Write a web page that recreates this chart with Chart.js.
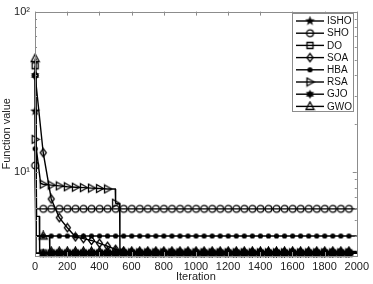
<!DOCTYPE html>
<html>
<head>
<meta charset="utf-8">
<script src="https://cdn.jsdelivr.net/npm/chart.js@4.4.1/dist/chart.umd.min.js"></script>
<style>
html, body { margin: 0; padding: 0; background: #fff; }
</style>
</head>
<body>
<canvas id="chart" width="373" height="284"></canvas>
<script>
// sampled iterations (markers every 50 iterations, last point has no marker)
var iters = [1, 51, 101, 151, 201, 251, 301, 351, 401, 451, 501, 551, 601, 651, 701, 751, 801, 851, 901, 951,
             1001, 1051, 1101, 1151, 1201, 1251, 1301, 1351, 1401, 1451, 1501, 1551, 1601, 1651, 1701, 1751, 1801, 1851, 1901, 1951, 2000];

var ISHO = [24, 3.12, 3.12, 3.12, 3.12, 3.12, 3.12, 3.12, 3.12, 3.12, 3.12, 3.12, 3.12, 3.12, 3.12, 3.12, 3.12, 3.12, 3.12, 3.12,
            3.12, 3.12, 3.12, 3.12, 3.12, 3.12, 3.12, 3.12, 3.12, 3.12, 3.12, 3.12, 3.12, 3.12, 3.12, 3.12, 3.12, 3.12, 3.12, 3.12, 3.12];
var SHO  = [11, 5.9, 5.9, 5.9, 5.9, 5.9, 5.9, 5.9, 5.9, 5.9, 5.9, 5.9, 5.9, 5.9, 5.9, 5.9, 5.9, 5.9, 5.9, 5.9,
            5.9, 5.9, 5.9, 5.9, 5.9, 5.9, 5.9, 5.9, 5.9, 5.9, 5.9, 5.9, 5.9, 5.9, 5.9, 5.9, 5.9, 5.9, 5.9, 5.9, 5.9];
var DO   = [46, 3.13, 3.13, 3.13, 3.13, 3.13, 3.13, 3.13, 3.13, 3.13, 3.13, 3.13, 3.13, 3.13, 3.13, 3.13, 3.13, 3.13, 3.13, 3.13,
            3.13, 3.13, 3.13, 3.13, 3.13, 3.13, 3.13, 3.13, 3.13, 3.13, 3.13, 3.13, 3.13, 3.13, 3.13, 3.13, 3.13, 3.13, 3.13, 3.13, 3.13];
var SOA  = [40, 13.2, 6.8, 5.2, 4.5, 3.95, 3.85, 3.75, 3.6, 3.45, 3.3, 3.2, 3.17, 3.17, 3.17, 3.17, 3.17, 3.17, 3.17, 3.17,
            3.17, 3.17, 3.17, 3.17, 3.17, 3.17, 3.17, 3.17, 3.17, 3.17, 3.17, 3.17, 3.17, 3.17, 3.17, 3.17, 3.17, 3.17, 3.17, 3.17, 3.17];
var HBA  = [14, 4.0, 4.0, 4.0, 4.0, 4.0, 4.0, 4.0, 4.0, 4.0, 4.0, 4.0, 4.0, 4.0, 4.0, 4.0, 4.0, 4.0, 4.0, 4.0,
            4.0, 4.0, 4.0, 4.0, 4.0, 4.0, 4.0, 4.0, 4.0, 4.0, 4.0, 4.0, 4.0, 4.0, 4.0, 4.0, 4.0, 4.0, 4.0, 4.0, 4.0];
var RSA  = [16, 8.4, 8.3, 8.2, 8.1, 8.05, 8.0, 7.95, 7.9, 7.85, 6.4, 3.14, 3.14, 3.14, 3.14, 3.14, 3.14, 3.14, 3.14, 3.14,
            3.14, 3.14, 3.14, 3.14, 3.14, 3.14, 3.14, 3.14, 3.14, 3.14, 3.14, 3.14, 3.14, 3.14, 3.14, 3.14, 3.14, 3.14, 3.14, 3.14, 3.14];
var GJO  = [40, 3.12, 3.12, 3.12, 3.12, 3.12, 3.12, 3.12, 3.12, 3.12, 3.12, 3.12, 3.12, 3.12, 3.12, 3.12, 3.12, 3.12, 3.12, 3.12,
            3.12, 3.12, 3.12, 3.12, 3.12, 3.12, 3.12, 3.12, 3.12, 3.12, 3.12, 3.12, 3.12, 3.12, 3.12, 3.12, 3.12, 3.12, 3.12, 3.12, 3.12];
var GWO  = [51, 4.0, 3.2, 3.2, 3.2, 3.2, 3.2, 3.2, 3.2, 3.2, 3.2, 3.2, 3.2, 3.2, 3.2, 3.2, 3.2, 3.2, 3.2, 3.2,
            3.2, 3.2, 3.2, 3.2, 3.2, 3.2, 3.2, 3.2, 3.2, 3.2, 3.2, 3.2, 3.2, 3.2, 3.2, 3.2, 3.2, 3.2, 3.2, 3.2, 3.2];

// extra points where the curves step between sampled iterations (no marker)
var ISHO_steps = [[5, 3.12]];
var SHO_steps  = [[5, 5.9]];
var DO_steps   = [[10, 5.3], [27, 5.3], [29, 3.13]];
var SOA_steps  = [];
var HBA_steps  = [[5, 4.0]];
var RSA_steps  = [[35, 8.5], [499, 7.85], [526, 6.35], [528, 3.14]];
var GJO_steps  = [[5, 3.12]];
var GWO_steps  = [[6, 4.0], [90, 4.0], [92, 3.2]];

var xTicks = [0, 200, 400, 600, 800, 1000, 1200, 1400, 1600, 1800, 2000];
var yLabels = {10: "10\u00b9", 100: "10\u00b2"};

// marker images, MATLAB-like
function makeMarker(kind) {
    var c = document.createElement("canvas");
    c.width = 11; c.height = 11;
    var g = c.getContext("2d");
    var cx = 5.5, cy = 5.5;
    g.strokeStyle = "#000";
    g.fillStyle = "#000";
    g.lineWidth = 1.3;
    g.beginPath();
    if (kind == "star") {
        for (var i = 0; i < 10; i++) {
            var r = i % 2 ? 2.1 : 5.2;
            var a = -Math.PI / 2 + i * Math.PI / 5;
            g.lineTo(cx + r * Math.cos(a), cy + r * Math.sin(a));
        }
        g.closePath(); g.fill();
    } else if (kind == "circle") {
        g.arc(cx, cy, 3.4, 0, Math.PI * 2); g.stroke();
    } else if (kind == "square") {
        g.rect(cx - 3, cy - 3, 6, 6); g.stroke();
    } else if (kind == "diamond") {
        g.moveTo(cx, cy - 4.2); g.lineTo(cx + 3, cy); g.lineTo(cx, cy + 4.2); g.lineTo(cx - 3, cy);
        g.closePath(); g.stroke();
    } else if (kind == "dot") {
        g.arc(cx, cy, 2.6, 0, Math.PI * 2); g.fill();
    } else if (kind == "right") {
        g.moveTo(cx - 3, cy - 4); g.lineTo(cx + 4, cy); g.lineTo(cx - 3, cy + 4);
        g.closePath(); g.stroke();
    } else if (kind == "hex") {
        for (var k = 0; k < 2; k++) {
            g.beginPath();
            for (var j = 0; j < 3; j++) {
                var b = (k ? Math.PI / 2 : -Math.PI / 2) + j * 2 * Math.PI / 3;
                g.lineTo(cx + 4.6 * Math.cos(b), cy + 4.6 * Math.sin(b));
            }
            g.closePath(); g.fill();
        }
    } else if (kind == "tri") {
        g.moveTo(cx, cy - 4.5); g.lineTo(cx + 4, cy + 3); g.lineTo(cx - 4, cy + 3);
        g.closePath(); g.stroke();
    }
    return c;
}

function series(label, vals, steps, kind) {
    var pts = iters.map(function (x, i) {
        return {x: x, y: vals[i], m: (x - 1) % 50 == 0};
    });
    steps.forEach(function (s) { pts.push({x: s[0], y: s[1], m: false}); });
    pts.sort(function (a, b) { return a.x - b.x; });
    var img = makeMarker(kind);
    return {
        label: label,
        data: pts,
        borderColor: "#000",
        borderWidth: 1.4,
        fill: false,
        tension: 0,
        clip: false,
        marker: img,
        pointStyle: function (ctx) { return ctx.raw && ctx.raw.m ? img : false; },
        pointRadius: function (ctx) { return ctx.raw && ctx.raw.m ? 4 : 0; },
        pointHoverRadius: 0
    };
}

var datasets = [
    series("ISHO", ISHO, ISHO_steps, "star"),
    series("SHO", SHO, SHO_steps, "circle"),
    series("DO", DO, DO_steps, "square"),
    series("SOA", SOA, SOA_steps, "diamond"),
    series("HBA", HBA, HBA_steps, "dot"),
    series("RSA", RSA, RSA_steps, "right"),
    series("GJO", GJO, GJO_steps, "hex"),
    series("GWO", GWO, GWO_steps, "tri")
];

// box, inward ticks and legend like MATLAB
var matlabAxes = {
    id: "matlabAxes",
    afterDatasetsDraw: function (chart) {
        var ctx = chart.ctx, a = chart.chartArea;
        var xs = chart.scales.x, ys = chart.scales.y;
        ctx.save();
        ctx.strokeStyle = "#8c8c8c";
        ctx.lineWidth = 1;
        ctx.beginPath();
        xTicks.forEach(function (v) {
            var px = Math.round(xs.getPixelForValue(v)) + 0.5;
            ctx.moveTo(px, a.bottom); ctx.lineTo(px, a.bottom - 4);
            ctx.moveTo(px, a.top); ctx.lineTo(px, a.top + 4);
        });
        for (var v = 3; v <= 100; v += (v < 10 ? 1 : 10)) {
            var py = Math.round(ys.getPixelForValue(v)) + 0.5;
            var len = (v == 10 || v == 100) ? 4 : 2;
            ctx.moveTo(a.left, py); ctx.lineTo(a.left + len, py);
            ctx.moveTo(a.right, py); ctx.lineTo(a.right - len, py);
        }
        ctx.stroke();
        ctx.strokeRect(Math.round(a.left) + 0.5, Math.round(a.top) + 0.5,
                       Math.round(a.right - a.left), Math.round(a.bottom - a.top));

        // legend
        var lx = 292, ly = 13, lw = 61, lh = 98;
        ctx.fillStyle = "#fff";
        ctx.fillRect(lx, ly, lw, lh);
        ctx.strokeStyle = "#8c8c8c";
        ctx.strokeRect(lx + 0.5, ly + 0.5, lw, lh);
        ctx.font = "10px 'Liberation Sans', Arial, sans-serif";
        ctx.textBaseline = "middle";
        chart.data.datasets.forEach(function (ds, i) {
            var y = ly + 8 + i * 12.2;
            ctx.strokeStyle = "#000";
            ctx.lineWidth = 1.4;
            ctx.beginPath();
            ctx.moveTo(296, y); ctx.lineTo(324, y);
            ctx.stroke();
            ctx.drawImage(ds.marker, 310 - 5.5, y - 5.5);
            ctx.fillStyle = "#111";
            ctx.fillText(ds.label, 327, y + 0.5);
        });
        ctx.restore();
    }
};

var font = {family: "'Liberation Sans', Arial, sans-serif", size: 11};

new Chart(document.getElementById("chart"), {
    type: "line",
    data: {datasets: datasets},
    options: {
        responsive: false,
        animation: false,
        events: [],
        layout: {padding: {top: 5, right: 13, left: 0, bottom: 0}},
        plugins: {legend: {display: false}, tooltip: {enabled: false}},
        scales: {
            x: {
                type: "linear",
                min: 0,
                max: 2000,
                grid: {display: false, drawTicks: false},
                border: {display: false},
                ticks: {
                    stepSize: 200, maxRotation: 0, autoSkip: false, padding: 4, color: "#222", font: font,
                    callback: function (v) { return String(v); }
                },
                title: {display: true, text: "Iteration", color: "#222", font: font, padding: 0},
                afterFit: function (s) { s.height = 28; }
            },
            y: {
                type: "logarithmic",
                min: 3,
                max: 100,
                grid: {display: false, drawTicks: false},
                border: {display: false},
                ticks: {
                    autoSkip: false,
                    padding: 5,
                    color: "#222",
                    font: font,
                    callback: function (v) { return yLabels[v] || ""; }
                },
                title: {display: true, text: "Function value", color: "#222", font: font, padding: 0},
                afterFit: function (s) { s.width = 35; }
            }
        }
    },
    plugins: [matlabAxes]
});
</script>
</body>
</html>
